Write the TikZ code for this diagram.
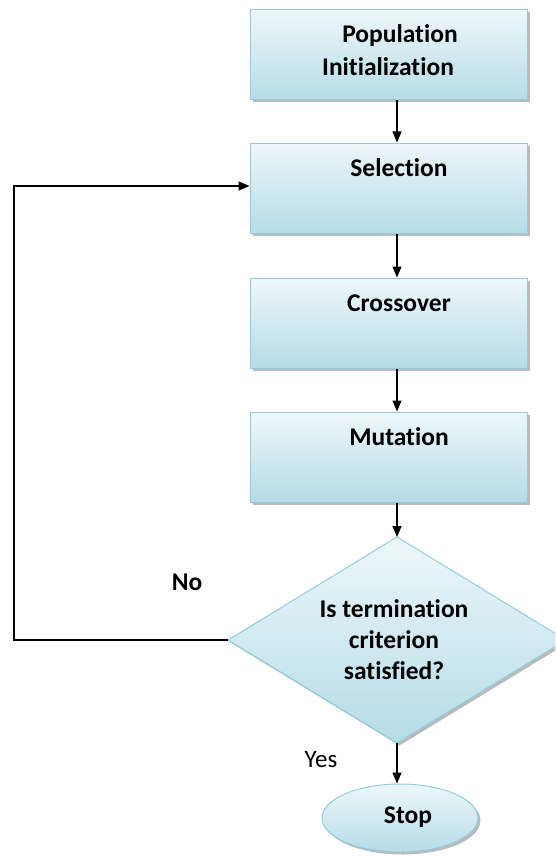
\documentclass[tikz,border=0pt]{standalone}
\usepackage{fontspec}
\setmainfont{Carlito}[RawFeature={-liga;-clig}]
\usetikzlibrary{arrows.meta,shapes.geometric,shadows}
\definecolor{boxtop}{HTML}{EEF7FA}
\definecolor{boxbot}{HTML}{B5DCE7}
\definecolor{boxline}{HTML}{93CDDD}
\tikzset{
  procbox/.style={rectangle, draw=boxline, line width=1pt, top color=boxtop, bottom color=boxbot,
    minimum width=277pt, minimum height=90pt, inner sep=0pt,
    drop shadow={shadow xshift=2.5pt, shadow yshift=-2.5pt, fill=black!45, opacity=0.6}},
  lbl/.style={font=\bfseries\fontsize{25.5}{31}\selectfont, align=center, inner sep=0pt},
  flow/.style={draw=black, line width=1.3pt, -{Triangle[length=11pt,width=9pt]}},
}
\begin{document}
\begin{tikzpicture}[x=1pt,y=-1pt]
\useasboundingbox (0,0) rectangle (555,856);
\begin{scope}
\clip (0,0) rectangle (555,856);
% boxes
\node[procbox] (init) at (388.5,55) {};
\node[procbox] (sel) at (388.5,188) {};
\node[procbox] (cross) at (388.5,323) {};
\node[procbox] (mut) at (388.5,457) {};
% diamond
\coordinate (dtop) at (397,537);
\coordinate (dleft) at (228,640);
\coordinate (dright) at (566,640);
\coordinate (dbot) at (397,743);
\path[draw=boxline, line width=1pt, top color=boxtop, bottom color=boxbot,
  drop shadow={shadow xshift=2.5pt, shadow yshift=-2.5pt, fill=black!45, opacity=0.6}]
  (dtop) -- (dright) -- (dbot) -- (dleft) -- cycle;
% ellipse
\node[ellipse, draw=boxline, line width=1pt, top color=boxtop, bottom color=boxbot,
  minimum width=156pt, minimum height=68pt, inner sep=0pt,
  drop shadow={shadow xshift=2.5pt, shadow yshift=-2.5pt, fill=black!45, opacity=0.6}] (stop) at (400,818) {};
\end{scope}
% texts
\node[lbl] (tpop) at (400,36) {Population};
\node[lbl] (tinit) at (388,67) {Initialization};
\node[lbl] (tsel) at (399,168) {Selection};
\node[lbl] (tcross) at (399,303) {Crossover};
\node[lbl] (tmut) at (399,437) {Mutation};
\node[lbl] (tdec) at (394,640) {Is termination\\criterion\\satisfied?};
\node[lbl] (tstop) at (408,817) {Stop};
\node[lbl] (tno) at (187,582) {No};
\node[font=\fontsize{25}{28}\selectfont, inner sep=0pt] (tyes) at (321,760) {Yes};
% connectors
\draw[flow] (init.south -| 397,0) -- (sel.north -| 397,0);
\draw[flow] (sel.south -| 397,0) -- (cross.north -| 397,0);
\draw[flow] (cross.south -| 397,0) -- (mut.north -| 397,0);
\draw[flow] (mut.south -| 397,0) -- (dtop);
\draw[flow] (dbot) -- (stop.north -| dbot);
\draw[flow] (dleft) -- (14,640) -- (14,186) -- (sel.west |- 0,186);
\end{tikzpicture}
\end{document}
